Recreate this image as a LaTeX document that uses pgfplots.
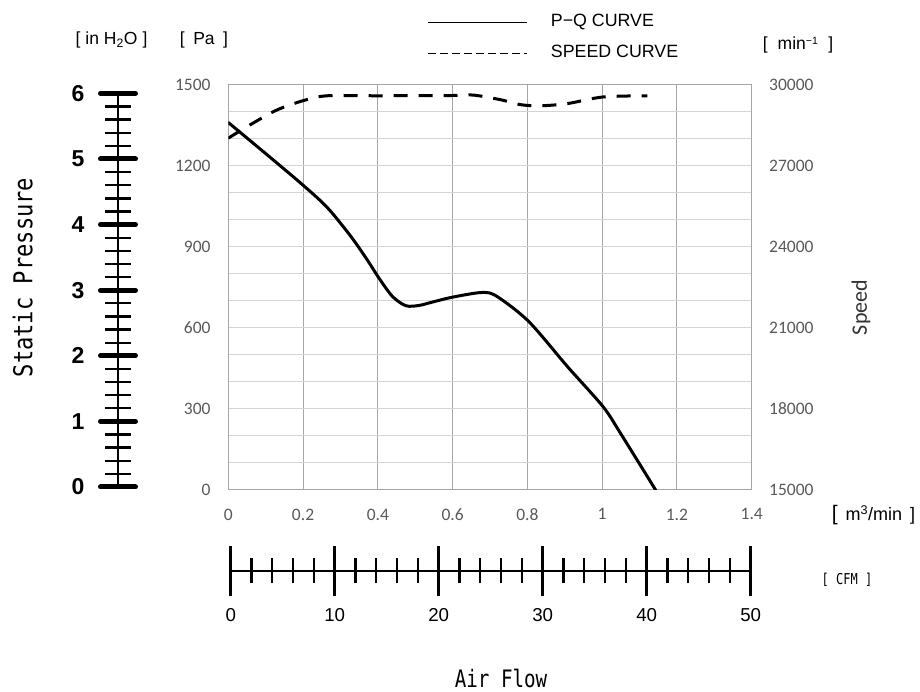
\documentclass[border=0pt]{standalone}
\usepackage{fontspec}
\setmainfont{Liberation Sans}
\newfontfamily\carlito{Carlito}
\newfontfamily\gothic[FakeStretch=0.85]{DejaVu Sans Mono}
\newfontfamily\gothicn[FakeStretch=0.8]{DejaVu Sans Mono}
\usepackage{pgfplots}
\pgfplotsset{compat=1.18}
\definecolor{vgrid}{RGB}{166,166,166}
\definecolor{hgrid}{RGB}{212,212,212}
\definecolor{tickgray}{RGB}{89,89,89}

% P-Q curve, flow in m3/min, pressure in Pa
\pgfplotstableread{
q p
0 1360
0.1 1245
0.2 1128
0.265 1045
0.327 940
0.37 855
0.405 780
0.44 715
0.475 682
0.51 683
0.55 697
0.601 714
0.679 731
0.719 716
0.804 623
0.907 457
1.002 309
1.049 210
1.143 0
}\pqdata

% speed curve, min^-1
\pgfplotstableread{
q n
0 28020
0.059 28520
0.131 29070
0.203 29420
0.265 29590
0.4 29590
0.6 29600
0.656 29615
0.728 29445
0.782 29260
0.835 29220
0.907 29300
1.002 29545
1.121 29590
}\speeddata

\begin{document}
\begin{tikzpicture}[x=1pt,y=1pt]
\useasboundingbox (0,0) rectangle (920,692);

% main chart: pressure
\begin{axis}[
  at={(228.3pt,202pt)}, anchor=south west,
  scale only axis, width=523.4pt, height=405.3pt,
  xmin=0, xmax=1.4, ymin=0, ymax=1500,
  xtick={0,0.2,0.4,0.6,0.8,1,1.2,1.4},
  xticklabels={0,0.2,0.4,0.6,0.8,1,1.2,1.4},
  ytick={0,300,600,900,1200,1500},
  yticklabels={0,300,600,900,1200,1500},
  minor ytick={100,200,400,500,700,800,1000,1100,1300,1400},
  xmajorgrids, ymajorgrids, yminorgrids,
  major x grid style={vgrid, line width=1pt},
  major y grid style={hgrid, line width=1pt},
  minor y grid style={hgrid, line width=1pt},
  axis line style={vgrid, line width=1pt},
  tick style={draw=none},
  ticklabel style={font=\carlito\fontsize{17.5}{18}\selectfont, text=tickgray, inner sep=0pt},
  xticklabel style={yshift=-18.5pt},
  yticklabel style={xshift=-17.6pt},
]
\addplot[black, line width=3pt, smooth, line cap=round] table[x=q, y=p] {\pqdata};
\end{axis}

% speed axis on the right
\begin{axis}[
  at={(228.3pt,202pt)}, anchor=south west,
  scale only axis, width=523.4pt, height=405.3pt,
  xmin=0, xmax=1.4, ymin=15000, ymax=30000,
  axis x line=none, axis y line*=right,
  axis line style={draw=none},
  ytick={15000,18000,21000,24000,27000,30000},
  yticklabels={15000,18000,21000,24000,27000,30000},
  scaled y ticks=false,
  tick style={draw=none},
  yticklabel style={font=\carlito\fontsize{17.5}{18}\selectfont, text=tickgray, inner sep=0pt, xshift=17.3pt},
]
\addplot[black, line width=3pt, smooth, dash pattern=on 14pt off 11pt] table[x=q, y=n] {\speeddata};
\end{axis}

% inch water gauge scale
\begin{axis}[
  at={(118pt,205pt)}, anchor=south west,
  scale only axis, width=30pt, height=393.6pt,
  xmin=0, xmax=1, ymin=0, ymax=6,
  axis x line=none, axis y line*=left,
  axis line style={black, line width=2.3pt},
  ytick={0,1,2,3,4,5,6}, yticklabels={0,1,2,3,4,5,6},
  minor y tick num=4,
  tick align=center,
  major tick length=35pt, minor tick length=26pt,
  major tick style={black, line width=5pt, line cap=round},
  minor tick style={black, line width=2.3pt},
  yticklabel style={font=\fontsize{23}{23}\selectfont\bfseries, inner sep=0pt, xshift=-16pt},
]
\end{axis}

% CFM scale
\begin{axis}[
  at={(230.7pt,121.3pt)}, anchor=south west,
  scale only axis, width=520pt, height=20pt,
  xmin=0, xmax=50, ymin=0, ymax=1,
  axis y line=none, axis x line*=bottom,
  axis line style={black, line width=2.3pt},
  xtick={0,10,20,30,40,50}, xticklabels={0,10,20,30,40,50},
  minor xtick={2,4,6,8,12,14,16,18,22,24,26,28,32,34,36,38,42,44,46,48},
  tick align=center,
  major tick length=50pt, minor tick length=25pt,
  major tick style={black, line width=3.5pt},
  minor tick style={black, line width=2.2pt},
  xticklabel style={font=\fontsize{18.7}{19}\selectfont, inner sep=0pt, yshift=-13pt},
]
\end{axis}

% labels and legend
\node[rotate=90, font=\gothic\fontsize{26}{26}\selectfont] at (22.7,414.5) {Static Pressure};
\node[anchor=base, font=\gothicn\fontsize{24}{24}\selectfont] at (501,4) {Air Flow};
\node[font=\gothicn\fontsize{15}{15}\selectfont] at (847,112) {[ CFM ]};
\node[font=\fontsize{18}{18}\selectfont] at (873.5,177) {{\fontsize{21}{21}\selectfont[}\hspace{8pt}m\textsuperscript{3}/min\hspace{8pt}]};
\node[rotate=90, font=\carlito\fontsize{22}{22}\selectfont, text=black!80] at (861,384.5) {Speed};
\node[font=\fontsize{17.5}{17.5}\selectfont] at (111.5,652) {[\hspace{5pt}in H\textsubscript{2}O\hspace{5pt}]};
\node[font=\fontsize{17.5}{17.5}\selectfont] at (204,652) {[\hspace{8.5pt}Pa\hspace{8.5pt}]};
\node[font=\fontsize{17.5}{17.5}\selectfont] at (798,647) {[\hspace{10pt}min{\fontsize{15}{15}\selectfont\textsuperscript{−1}}\hspace{10pt}]};
\draw[black, line width=1.2pt] (428,669.3) -- (526.7,669.3);
\draw[black, line width=1.2pt, dash pattern=on 8pt off 4pt] (428,638.7) -- (526.7,638.7);
\node[anchor=base west, inner sep=0pt, font=\fontsize{17.8}{17.8}\selectfont] at (550.7,665.3) {P−Q CURVE};
\node[anchor=base west, inner sep=0pt, font=\fontsize{17.8}{17.8}\selectfont] at (550.7,634.7) {SPEED CURVE};
\end{tikzpicture}
\end{document}
